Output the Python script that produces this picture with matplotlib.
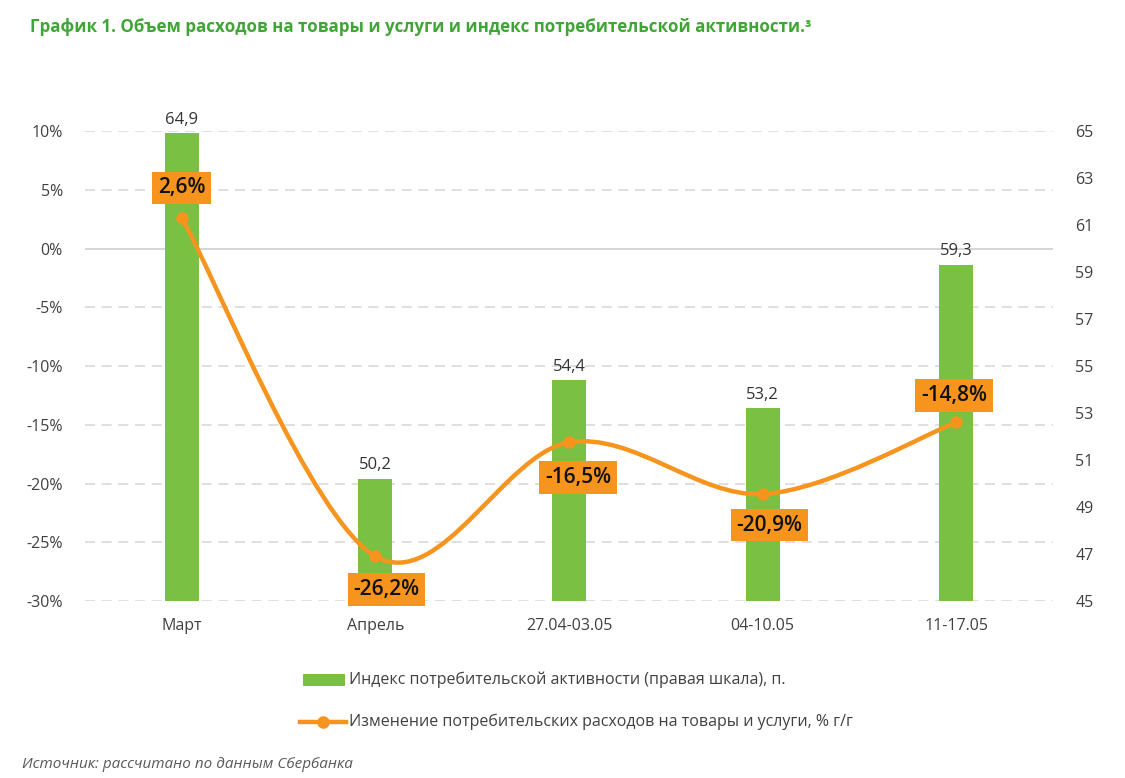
import matplotlib
matplotlib.use("Agg")
import matplotlib.pyplot as plt
from matplotlib.path import Path
from matplotlib.patches import PathPatch, Rectangle
from matplotlib.lines import Line2D
import matplotlib.transforms as mtransforms

plt.rcParams['font.family'] = ['Open Sans', 'DejaVu Sans']

# data
categories = ['Март', 'Апрель', '27.04-03.05', '04-10.05', '11-17.05']
index_values = [64.9, 50.2, 54.4, 53.2, 59.3]
spend_change = [2.6, -26.2, -16.5, -20.9, -14.8]
bar_labels = ['64,9', '50,2', '54,4', '53,2', '59,3']
line_labels = ['2,6%', '-26,2%', '-16,5%', '-20,9%', '-14,8%']
left_ticks = [-30, -25, -20, -15, -10, -5, 0, 5, 10]
right_ticks = [45, 47, 49, 51, 53, 55, 57, 59, 61, 63, 65]

green = '#7AC143'
orange = '#F7941D'
title_green = '#3FA535'
txt = '#404040'

fig = plt.figure(figsize=(11.25, 7.78), dpi=100)
ax = fig.add_axes([0.0756, 0.2275, 0.8604, 0.6041])
ax2 = ax.twinx()

x = list(range(len(categories)))

# bars (right scale)
ax.bar(x, index_values, width=0.175, color=green, zorder=2)
ax.set_ylim(45, 65)
ax.set_xlim(-0.5, len(categories) - 0.5)
ax.yaxis.tick_right()
ax.set_yticks(right_ticks)
ax.set_yticklabels([str(t) for t in right_ticks])
for i, v in enumerate(index_values):
    ax.annotate(bar_labels[i], (i, v), xytext=(0, 4), textcoords='offset points',
                ha='center', va='bottom', fontsize=12, color='#333333', zorder=3)

# gridlines follow the left scale, drawn behind bars
ax2.set_ylim(-30, 10)
blend = mtransforms.blended_transform_factory(ax.transAxes, ax2.transData)
for t in left_ticks:
    if t == 0:
        ax.plot([0, 1], [t, t], transform=blend, color='#D0D0D0', lw=1.2, zorder=0)
    else:
        ax.plot([0, 1], [t, t], transform=blend, color='#D9D9D9', lw=1.2,
                dashes=(6, 4), zorder=0)

# smoothed line (left scale)
pts = list(zip(x, spend_change))
verts = [pts[0]]
codes = [Path.MOVETO]
n = len(pts)
for i in range(n - 1):
    p0 = pts[i - 1] if i > 0 else pts[i]
    p1 = pts[i]
    p2 = pts[i + 1]
    p3 = pts[i + 2] if i + 2 < n else pts[i + 1]
    c1 = (p1[0] + (p2[0] - p0[0]) / 6, p1[1] + (p2[1] - p0[1]) / 6)
    c2 = (p2[0] - (p3[0] - p1[0]) / 6, p2[1] - (p3[1] - p1[1]) / 6)
    verts += [c1, c2, p2]
    codes += [Path.CURVE4] * 3
ax2.add_patch(PathPatch(Path(verts, codes), fill=False, edgecolor=orange, lw=3.2,
                        capstyle='round', zorder=3))
ax2.plot(x, spend_change, linestyle='none', marker='o', markersize=8,
         color=orange, zorder=4)

offsets = [(0, 30), (11, -33), (9, -35), (7, -31), (-2, 27)]
for i, v in enumerate(spend_change):
    ax2.annotate(line_labels[i], (i, v), xytext=offsets[i], textcoords='offset pixels',
                 ha='center', va='center', fontsize=15, fontweight='semibold',
                 color='#111111', zorder=5,
                 bbox=dict(boxstyle='square,pad=0.28', fc=orange, ec='none'))

ax2.yaxis.tick_left()
ax2.set_yticks(left_ticks)
ax2.set_yticklabels([f'{t}%' for t in left_ticks])

ax.set_xticks(x)
ax.set_xticklabels(categories)

for a in (ax, ax2):
    for s in a.spines.values():
        s.set_visible(False)
    a.tick_params(length=0, labelsize=11.5, labelcolor=txt, pad=16)
ax.tick_params(axis='x', pad=12)

# legend
fig.patches.append(Rectangle((303 / 1125, 1 - 686 / 778), 42 / 1125, 12 / 778,
                             transform=fig.transFigure, fc=green, ec='none'))
fig.lines.append(Line2D([300 / 1125, 346 / 1125], [1 - 722 / 778] * 2,
                        transform=fig.transFigure, color=orange, lw=3.2))
fig.lines.append(Line2D([323 / 1125], [1 - 722 / 778], transform=fig.transFigure,
                        marker='o', markersize=8, color=orange))
fig.text(349 / 1125, 1 - 680 / 778, 'Индекс потребительской активности (правая шкала), п.',
         fontsize=11.5, color=txt, va='center')
fig.text(349 / 1125, 1 - 722 / 778, 'Изменение потребительских расходов на товары и услуги, % г/г',
         fontsize=11.5, color=txt, va='center')

fig.text(30 / 1125, 1 - 27 / 778,
         'График 1. Объем расходов на товары и услуги и индекс потребительской активности.³',
         fontsize=12.2, fontweight='bold', color=title_green, va='center')
fig.text(22 / 1125, 1 - 765 / 778, 'Источник: рассчитано по данным Сбербанка',
         fontsize=11, style='italic', color='#595959', va='center')

fig.savefig('out.png', dpi=100)
